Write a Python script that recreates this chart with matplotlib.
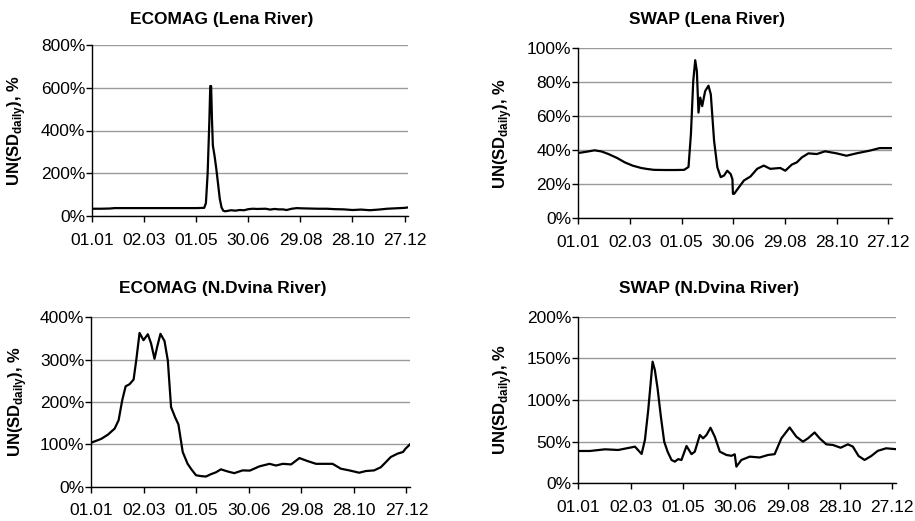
import matplotlib
matplotlib.use("Agg")
import matplotlib.pyplot as plt
from matplotlib.ticker import FuncFormatter, FixedLocator

plt.rcParams['font.family'] = ['Liberation Sans', 'DejaVu Sans']
plt.rcParams['mathtext.fontset'] = 'custom'
plt.rcParams['mathtext.rm'] = 'Liberation Sans'
plt.rcParams['mathtext.bf'] = 'Liberation Sans:bold'

# day-of-year positions of the date ticks
tick_days = [0, 60, 120, 180, 240, 300, 360]
tick_labels = ['01.01', '02.03', '01.05', '30.06', '29.08', '28.10', '27.12']

# ECOMAG, Lena River: UN(SD daily), %
ecomag_lena_day = [0, 10, 20, 26, 40, 60, 80, 100, 120, 129, 131, 133, 135, 136, 137,
                   138, 139, 141, 143, 145, 147, 149, 151, 153, 156, 160, 165, 170,
                   175, 180, 185, 190, 200, 205, 210, 215, 220, 224, 230, 236, 240,
                   250, 260, 270, 280, 290, 300, 310, 320, 330, 340, 350, 360, 364]
ecomag_lena_val = [34, 34, 35, 37, 37, 37, 37, 37, 37, 38, 60, 200, 450, 608, 608,
                   450, 330, 280, 220, 150, 80, 40, 25, 22, 24, 27, 25, 28,
                   27, 32, 34, 33, 34, 30, 33, 31, 31, 28, 34, 37, 36,
                   35, 34, 34, 32, 31, 28, 30, 27, 30, 34, 36, 38, 40]

# SWAP, Lena River
swap_lena_day = [0, 10, 19, 27, 35, 45, 54, 63, 73, 80, 88, 100, 112, 123, 128,
                 130.8, 133.5, 135.8, 137.7, 139.6, 141.6, 143.9, 147.3, 151.2,
                 153.9, 157.7, 161.5, 165.4, 169.3, 173, 177, 179, 179.6, 181,
                 186.6, 192.3, 200, 207.7, 215.4, 223, 234.6, 240.4, 248, 253.8,
                 259.6, 267.3, 277, 286.6, 300, 311.5, 323, 338.5, 350, 364]
swap_lena_val = [38.4, 39.2, 40.0, 39.3, 37.8, 35.5, 32.9, 31.0, 29.6, 29.0, 28.5,
                 28.4, 28.4, 28.5, 30.2, 49.5, 80.7, 93.0, 86.5, 62.2, 71.0, 66.0,
                 74.8, 78.0, 72.9, 45.6, 30.0, 24.2, 25.2, 28.0, 26.0, 23.0, 14.4,
                 14.4, 18.3, 22.2, 24.6, 29.1, 31.0, 29.1, 29.6, 28.0, 31.6, 32.9,
                 35.8, 38.2, 37.8, 39.4, 38.2, 36.8, 38.2, 39.8, 41.3, 41.3]

# ECOMAG, N.Dvina River
ecomag_dvina_day = [0, 11.4, 19, 26.6, 31.2, 35.3, 39.2, 43.7, 48.3, 51.3, 55.1,
                    59.6, 64.6, 68.3, 72.2, 75.2, 79, 83.6, 87.4, 91.1, 95.7, 99.5,
                    104.4, 110, 114.7, 119.6, 125.3, 131, 136, 142.4, 148, 155.7,
                    163.3, 172.8, 181, 192, 203.5, 211, 218.7, 228.2, 237.7, 247,
                    256.7, 266, 275.6, 285, 294.6, 306, 313.6, 323, 330.7, 336.4,
                    342, 349.7, 356, 359, 364]
ecomag_dvina_val = [104, 113, 123, 137, 157, 204, 237, 242, 253, 298, 363,
                    346, 360, 338, 302, 330, 361, 344, 298, 188, 164, 147,
                    82, 54, 40, 27, 25, 24, 29, 34, 41, 36,
                    32, 38.5, 38, 48, 54, 50, 54, 52.6, 67.6, 60.5,
                    54, 54, 54, 42.5, 38.5, 33, 37, 38.5, 46, 58,
                    70, 78, 82, 90, 100]

# SWAP, N.Dvina River
swap_dvina_day = [0, 13.4, 30.6, 45.8, 55.4, 65, 72.6, 76.4, 80.2, 85.2, 87.8,
                  90.9, 94.7, 98.5, 102.4, 106.9, 110.7, 114.5, 118.3, 124.1,
                  129.8, 133.6, 139.4, 143.1, 147, 151.6, 156.5, 162.3, 169.9,
                  175.6, 179.4, 181.3, 187, 196.6, 208, 217.6, 225.2, 232.9,
                  242.4, 250, 257.6, 263.4, 271, 276.8, 284.4, 292, 300.8, 309.2,
                  314.9, 321.4, 328.3, 336, 343.5, 353, 364]
swap_dvina_val = [38.8, 38.8, 40.8, 40.0, 42.0, 44.0, 35.2, 52.0, 88.0, 146.0, 136.0,
                  114.0, 80.0, 50.0, 38.0, 28.0, 26.0, 29.0, 28.0, 44.8,
                  35.0, 38.0, 58.0, 54.0, 58.0, 66.7, 56.0, 38.0, 34.0,
                  33.0, 34.8, 20.0, 28.0, 32.0, 31.0, 34.0, 35.0, 54.0,
                  67.0, 56.0, 50.0, 54.0, 61.0, 54.0, 46.8, 46.0, 42.7, 46.8,
                  44.0, 32.8, 28.0, 32.8, 39.0, 42.0, 41.0]

W, H = 915, 521
fig = plt.figure(figsize=(W / 100, H / 100), dpi=100)


def px_axes(left, top, right, bottom):
    return fig.add_axes([left / W, 1 - bottom / H, (right - left) / W, (bottom - top) / H])


panels = [
    # (box in px, title, title centre px, ylabel x px, data, y max, y step)
    ((92.3, 45, 408, 216), 'ECOMAG (Lena River)', (221.7, 19.5), 17,
     ecomag_lena_day, ecomag_lena_val, 800, 200),
    ((578.3, 48.3, 891.7, 218.3), 'SWAP (Lena River)', (706.7, 19.5), 503,
     swap_lena_day, swap_lena_val, 100, 20),
    ((91.3, 317.3, 410, 486.7), 'ECOMAG (N.Dvina River)', (222.5, 288.3), 18,
     ecomag_dvina_day, ecomag_dvina_val, 400, 100),
    ((578.3, 316.7, 895.7, 483.3), 'SWAP (N.Dvina River)', (709, 288), 503,
     swap_dvina_day, swap_dvina_val, 200, 50),
]

for box, title, tpos, ylx, days, vals, ymax, ystep in panels:
    ax = px_axes(*box)
    ax.plot(days, vals, color='black', lw=1.6, solid_joinstyle='round', zorder=3)
    ax.set_xlim(0, 364)
    ax.set_ylim(0, ymax)
    ax.xaxis.set_major_locator(FixedLocator(tick_days))
    ax.set_xticklabels(tick_labels)
    ax.yaxis.set_major_locator(FixedLocator(list(range(0, ymax + 1, ystep))))
    ax.yaxis.set_major_formatter(FuncFormatter(lambda v, p: f'{v:.0f}%'))
    ax.grid(axis='y', color='#9a9a9a', lw=1.0)
    ax.set_axisbelow(True)
    for side in ('top', 'right'):
        ax.spines[side].set_visible(False)
    for side in ('left', 'bottom'):
        ax.spines[side].set_linewidth(1.0)
    ax.tick_params(axis='x', direction='out', length=4, width=1, pad=8, labelsize=12.5)
    ax.tick_params(axis='y', direction='out', length=4, width=1, pad=1, labelsize=12.5)

    fig.text(tpos[0] / W, 1 - tpos[1] / H, title, ha='center', va='center',
             fontsize=12.5, fontweight='bold')
    yc = (box[1] + box[3]) / 2
    fig.text(ylx / W, 1 - yc / H, r'UN(SD$_{\mathbf{daily}}$), %', rotation=90,
             ha='center', va='center', fontsize=12, fontweight='bold')

fig.savefig('out.png', dpi=100)
